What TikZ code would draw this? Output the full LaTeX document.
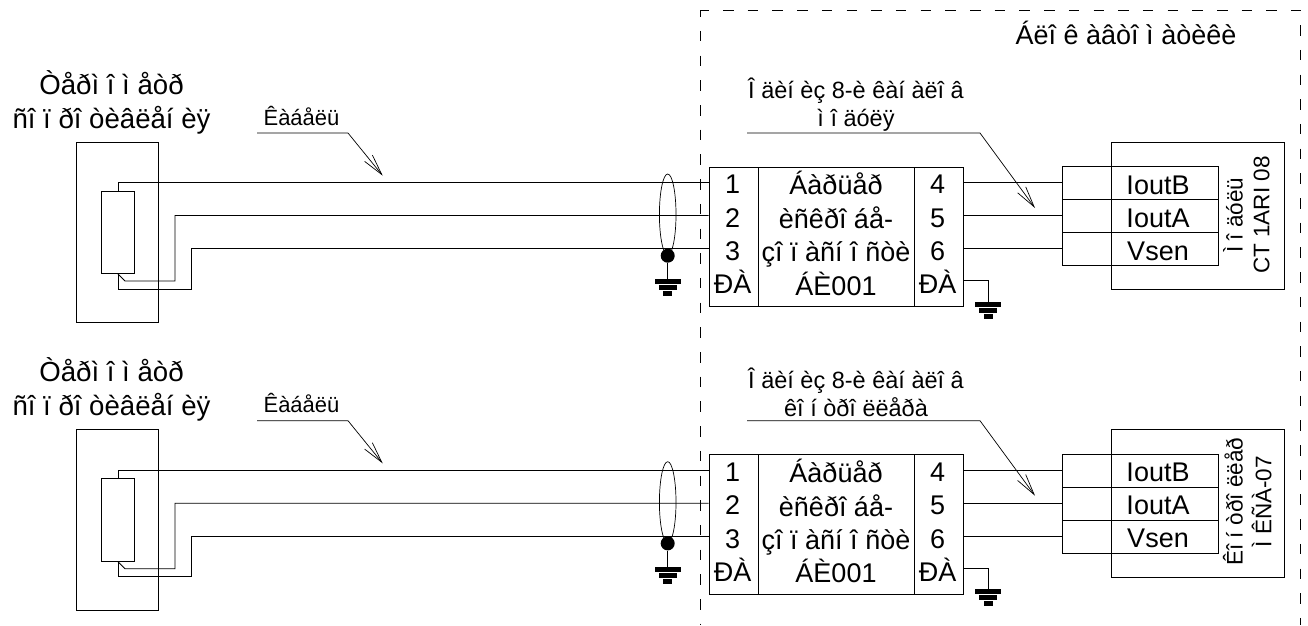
\documentclass[tikz,border=0pt]{standalone}
\usepackage{fontspec}
\setmainfont{Liberation Sans}
\usetikzlibrary{arrows.meta,shapes.geometric}
\tikzset{
  wire/.style={line width=0.9pt,black},
  cell/.style={draw,line width=0.9pt,inner sep=0pt,anchor=north west},
  big/.style={inner sep=0pt,align=center,font=\fontsize{27}{33.4}\selectfont},
  head/.style={inner sep=0pt,align=center,font=\fontsize{27.6}{34}\selectfont},
  mid/.style={inner sep=0pt,align=center,font=\fontsize{23.5}{27.5}\selectfont},
  side/.style={inner sep=0pt,font=\fontsize{22.5}{27}\selectfont},
  small/.style={inner sep=0pt,font=\fontsize{22}{26}\selectfont},
  leader/.style={line width=0.7pt,-{Straight Barb[length=21pt,width=10pt,line width=0.7pt]}},
  boundary/.style={line width=0.9pt,dash pattern=on 10.5pt off 14.2pt},
  gndbar/.style={fill=black,draw=none},
}
\newcommand{\gndsym}[3]{% name, x, y of top of bar stack
  \coordinate (#1) at (#2,#3);
  \fill[gndbar] ([xshift=-13pt]#1) rectangle ([xshift=13pt,yshift=-5pt]#1);
  \fill[gndbar] ([xshift=-9pt,yshift=-6pt]#1) rectangle ([xshift=9pt,yshift=-11pt]#1);
  \fill[gndbar] ([xshift=-4.5pt,yshift=-12pt]#1) rectangle ([xshift=4.5pt,yshift=-17pt]#1);
}
\newcommand{\channel}[6]{% suffix, y-offset, leader line 2, module label 1, module label 2, centre of module text
 \begin{scope}[shift={(0,#2)}]
  % sensor
  \node[head] (title#1) at (111.5,102) {Òåðì î ì åòð\\ñî ï ðî òèâëåí èÿ};
  \node[cell,minimum width=82pt,minimum height=180.5pt] (sensor#1) at (76,141.7) {};
  \node[cell,minimum width=33pt,minimum height=82.3pt] (res#1) at (101,190.7) {};
  % barrier
  \node[cell,minimum width=49.5pt,minimum height=139.3pt] (bl#1) at (708.5,166.7) {};
  \node[cell,minimum width=156.3pt,minimum height=139.3pt] (bc#1) at (758,166.7) {};
  \node[cell,minimum width=49pt,minimum height=139.3pt] (br#1) at (914.3,166.7) {};
  \node[big] (blt#1) at (732.5,234.5) {1\\2\\3\\ÐÀ};
  \node[big] (bct#1) at (836,233.5) {Áàðüåð\\èñêðî áå-\\çî ï àñí î ñòè\\ÁÈ001};
  \node[big] (brt#1) at (937.5,234.5) {4\\5\\6\\ÐÀ};
  % module
  \node[cell,minimum width=172.7pt,minimum height=147.6pt] (mod#1) at (1111,141.7) {};
  \node[cell,minimum width=156.3pt,minimum height=32.9pt] (r1#1) at (1061.7,166.3) {};
  \node[cell,minimum width=156.3pt,minimum height=32.9pt] (r2#1) at (1061.7,199.2) {};
  \node[cell,minimum width=156.3pt,minimum height=32.9pt] (r3#1) at (1061.7,232.1) {};
  \node[big] (r1t#1) at (1158,185) {IoutB};
  \node[big] (r2t#1) at (1158,218) {IoutA};
  \node[big] (r3t#1) at (1158,251) {Vsen};
  \node[side,rotate=90] (mt1#1) at (1233,#6) {#4};
  \node[side,rotate=90] (mt2#1) at (1261.7,#6) {#5};
  % wires
  \coordinate (p1#1) at (708.5,182.6);
  \coordinate (p2#1) at (708.5,215.5);
  \coordinate (p3#1) at (708.5,248.3);
  \coordinate (q1#1) at (963.3,182.6);
  \coordinate (q2#1) at (963.3,215.5);
  \coordinate (q3#1) at (963.3,248.3);
  \coordinate (j2#1) at (125,281);
  \coordinate (t2#1) at (175,281);
  \coordinate (t3#1) at (191.5,289);
  \draw[wire] (res#1.north) |- (p1#1);
  \draw[wire] (res#1.south) -- (j2#1) -- (t2#1) |- (p2#1);
  \draw[wire] (res#1.south) |- (t3#1) |- (p3#1);
  \draw[wire] (q1#1) -- (q1#1 -| r1#1.west);
  \draw[wire] (q2#1) -- (q2#1 -| r2#1.west);
  \draw[wire] (q3#1) -- (q3#1 -| r3#1.west);
  % cable screen and ground
  \node[draw,ellipse,line width=0.7pt,minimum width=16.6pt,minimum height=81pt,inner sep=0pt] (screen#1) at (667.7,214.5) {};
  \node[circle,fill=black,minimum size=14pt,inner sep=0pt] (dot#1) at (667.7,255.7) {};
  \gndsym{ga#1}{667.7}{279}
  \draw[line width=1.2pt] (dot#1) -- (ga#1);
  \gndsym{gb#1}{988.3}{301.7}
  \coordinate (pe#1) at (963.3,280.7);
  \draw[line width=1.2pt] (pe#1) -| (gb#1);
  % leaders
  \node[small] (cab#1) at (301.5,115.5) {Êàáåëü};
  \coordinate (ca#1) at (257,133);
  \coordinate (cb#1) at (348,133);
  \coordinate (cc#1) at (382.7,175.7);
  \draw[leader] (ca#1) -- (cb#1) -- (cc#1);
  \node[mid] (ch#1) at (856,104.5) {Î äèí  èç 8-è êàí àëî â\\#3};
  \coordinate (da#1) at (747,133);
  \coordinate (db#1) at (980,133);
  \coordinate (dc#1) at (1035,208);
  \draw[leader] (da#1) -- (db#1) -- (dc#1);
 \end{scope}
}
\begin{document}
\begin{tikzpicture}[x=1pt,y=-1pt]
  \useasboundingbox (0,0) rectangle (1308,625);
  \coordinate (tl) at (700.7,10);
  \coordinate (tr) at (1300.7,10);
  \coordinate (bl) at (700.7,625);
  \coordinate (brc) at (1300.7,625);
  \draw[boundary,dash phase=2.4pt] (tl) -- (tr) -- (brc);
  \draw[boundary,dash phase=3.8pt] (tl) -- (bl);
  \node[big] (auto) at (1126,33) {Áëî ê àâòî ì àòèêè};
  \channel{u}{0}{ì î äóëÿ}{Ì î äóëü}{CT 1ARI 08}{215}
  \channel{l}{287.7}{êî í òðî ëëåðà}{Êî í òðî ëëåð}{Ì ÊÑÀ-07}{214}
\end{tikzpicture}
\end{document}
